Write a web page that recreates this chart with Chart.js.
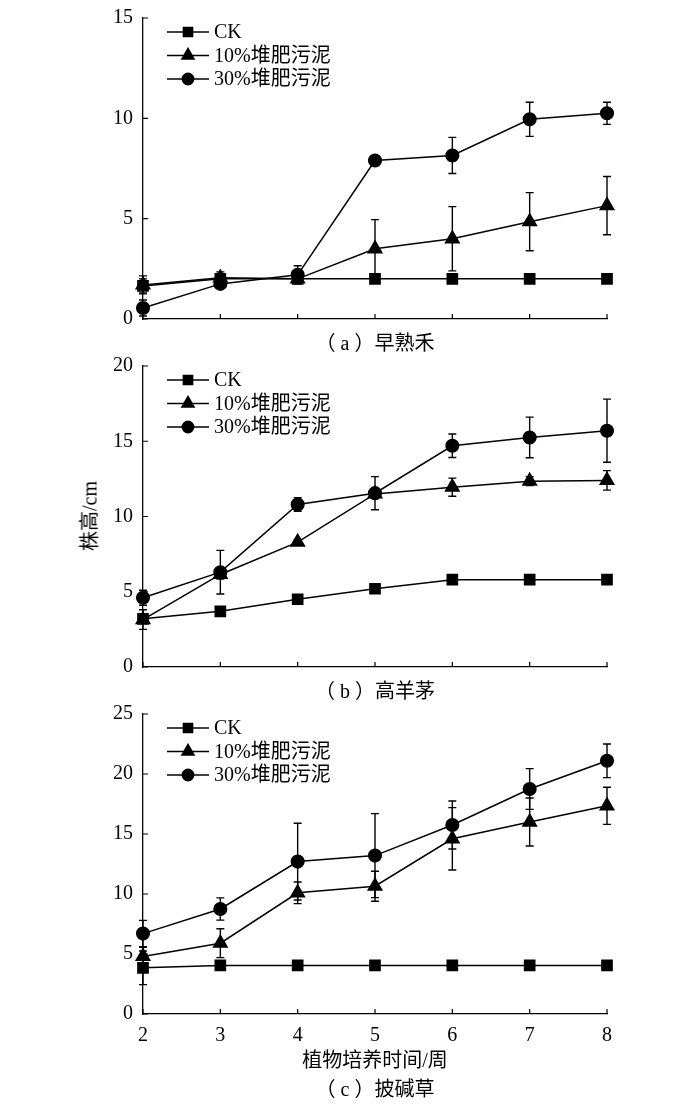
<!DOCTYPE html>
<html>
<head>
<meta charset="utf-8">
<script src="https://cdn.jsdelivr.net/npm/chart.js@4.4.1/dist/chart.umd.min.js"></script>
<style>
  body { margin: 0; background: #fff; width: 700px; height: 1106px; position: relative; overflow: hidden;
         font-family: "Liberation Serif", "Noto Sans CJK SC", serif; }
  canvas { position: absolute; left: 0; }
  .txt { position: absolute; color: #000; font-size: 20px; white-space: nowrap; transform: translate(-50%, -50%); }
</style>
</head>
<body>
<canvas id="chartA" width="700" height="336" style="top:0px"></canvas>
<canvas id="chartB" width="700" height="340" style="top:340px"></canvas>
<canvas id="chartC" width="700" height="416" style="top:690px"></canvas>

<div class="txt" style="left:375px;top:341px">（ a ）早熟禾</div>
<div class="txt" style="left:375px;top:689px">（ b ）高羊茅</div>
<div class="txt" style="left:88px;top:516px;transform:translate(-50%,-50%) rotate(-90deg)">株高/cm</div>
<div class="txt" style="left:375px;top:1058px">植物培养时间/周</div>
<div class="txt" style="left:375px;top:1087px">（ c ）披碱草</div>

<script>
const weeks = [2, 3, 4, 5, 6, 7, 8];
const seriesNames = ["CK", "10%堆肥污泥", "30%堆肥污泥"];

// (a) 早熟禾
const ckA = [1.65, 2.0, 2.0, 2.0, 2.0, 2.0, 2.0];
const ckAErr = [0.35, 0.1, 0.1, 0.1, 0.1, 0.1, 0.1];
const tenA = [1.7, 2.05, 2.0, 3.5, 4.0, 4.85, 5.65];
const tenAErr = [0.45, 0.3, 0.2, 1.45, 1.6, 1.45, 1.45];
const thirtyA = [0.55, 1.75, 2.2, 7.9, 8.15, 9.95, 10.25];
const thirtyAErr = [0.4, 0.15, 0.45, 0.15, 0.9, 0.85, 0.55];

// (b) 高羊茅
const ckB = [3.2, 3.7, 4.5, 5.2, 5.8, 5.8, 5.8];
const ckBErr = [0.1, 0.1, 0.1, 0.1, 0.1, 0.1, 0.1];
const tenB = [3.15, 6.15, 8.3, 11.5, 11.95, 12.35, 12.4];
const tenBErr = [0.65, 0.3, 0.15, 0.2, 0.6, 0.3, 0.65];
const thirtyB = [4.6, 6.3, 10.8, 11.55, 14.7, 15.25, 15.7];
const thirtyBErr = [0.5, 1.45, 0.45, 1.1, 0.78, 1.35, 2.1];

// (c) 披碱草
const ckC = [3.85, 4.05, 4.05, 4.05, 4.05, 4.05, 4.05];
const ckCErr = [1.4, 0.1, 0.1, 0.1, 0.1, 0.1, 0.1];
const tenC = [4.8, 5.9, 10.1, 10.65, 14.6, 16.0, 17.35];
const tenCErr = [0.75, 1.2, 0.9, 1.25, 2.6, 2.0, 1.55];
const thirtyC = [6.7, 8.75, 12.7, 13.2, 15.75, 18.75, 21.1];
const thirtyCErr = [1.1, 0.93, 3.2, 3.5, 2.0, 1.7, 1.4];

const yMaxes = [15, 20, 25];
const yStep = 5;

const FONT = "'Liberation Serif', 'Noto Sans CJK SC', serif";
const styles = [
  { pointStyle: "rect", radius: 7.2 },
  { pointStyle: "triangle", radius: 7.8 },
  { pointStyle: "circle", radius: 6.3 }
];

// vertical error bars with caps, drawn under the markers
const errorBars = {
  id: "errorBars",
  beforeDatasetsDraw(chart) {
    const ctx = chart.ctx, xs = chart.scales.x, ys = chart.scales.y;
    ctx.save();
    ctx.strokeStyle = "#000";
    ctx.lineWidth = 1.4;
    chart.data.datasets.forEach(ds => {
      ds.data.forEach((p, i) => {
        const e = ds.errors[i];
        if (!e) return;
        const px = xs.getPixelForValue(p.x);
        const top = ys.getPixelForValue(p.y + e);
        const bot = ys.getPixelForValue(Math.max(0, p.y - e));
        ctx.beginPath();
        ctx.moveTo(px, top); ctx.lineTo(px, bot);
        ctx.moveTo(px - 4, top); ctx.lineTo(px + 4, top);
        ctx.moveTo(px - 4, bot); ctx.lineTo(px + 4, bot);
        ctx.stroke();
      });
    });
    ctx.restore();
  }
};

// inward tick marks + line/marker legend
const decorations = {
  id: "decorations",
  afterDraw(chart) {
    const ctx = chart.ctx, xs = chart.scales.x, ys = chart.scales.y;
    const area = chart.chartArea;
    ctx.save();
    ctx.strokeStyle = "#000";
    ctx.lineWidth = 1.2;
    ctx.beginPath();
    weeks.forEach(w => {
      const px = xs.getPixelForValue(w);
      ctx.moveTo(px, area.bottom); ctx.lineTo(px, area.bottom - 5);
    });
    for (let v = 0; v <= ys.max; v += yStep) {
      const py = ys.getPixelForValue(v);
      ctx.moveTo(area.left, py); ctx.lineTo(area.left + 5, py);
    }
    ctx.stroke();

    ctx.fillStyle = "#000";
    ctx.font = "20px " + FONT;
    ctx.textBaseline = "middle";
    seriesNames.forEach((name, i) => {
      const y = area.top + 14 + i * 23.5;
      ctx.lineWidth = 1.5;
      ctx.beginPath();
      ctx.moveTo(167, y); ctx.lineTo(209, y);
      ctx.stroke();
      Chart.helpers.drawPoint(ctx, { pointStyle: styles[i].pointStyle, radius: styles[i].radius * 0.9, rotation: 0, borderWidth: 1 }, 188, y);
      ctx.fillText(name, 214, y + 1);
    });
    ctx.restore();
  }
};

function makeChart(id, series, errs, yMax, padTop, xHeight, showX) {
  const ctx = document.getElementById(id).getContext("2d");
  return new Chart(ctx, {
    type: "line",
    data: {
      datasets: series.map((vals, i) => ({
        label: seriesNames[i],
        data: weeks.map((w, j) => ({ x: w, y: vals[j] })),
        errors: errs[i],
        borderColor: "#000",
        backgroundColor: "#000",
        pointBackgroundColor: "#000",
        pointBorderColor: "#000",
        pointStyle: styles[i].pointStyle,
        pointRadius: styles[i].radius,
        borderWidth: 1.5,
        tension: 0,
        clip: false
      }))
    },
    options: {
      responsive: false,
      animation: false,
      layout: { padding: { top: padTop, right: 93, left: 0, bottom: 0 } },
      plugins: { legend: { display: false }, tooltip: { enabled: false } },
      scales: {
        x: {
          type: "linear",
          min: 2,
          max: 8,
          grid: { display: false, drawTicks: false },
          border: { display: true, color: "#000", width: 1.3 },
          ticks: {
            display: showX,
            stepSize: 1,
            color: "#000",
            padding: 10,
            font: { family: FONT, size: 20 }
          },
          afterFit(scale) {
            scale.height = xHeight;
            scale.paddingLeft = 0;
            scale.paddingRight = 0;
          }
        },
        y: {
          min: 0,
          max: yMax,
          grid: { display: false, drawTicks: false },
          border: { display: true, color: "#000", width: 1.3 },
          ticks: {
            stepSize: yStep,
            color: "#000",
            padding: 10,
            font: { family: FONT, size: 20 }
          },
          afterFit(scale) {
            scale.width = 143;
            scale.paddingTop = 0;
            scale.paddingBottom = 0;
          }
        }
      }
    },
    plugins: [errorBars, decorations]
  });
}

makeChart("chartA", [ckA, tenA, thirtyA], [ckAErr, tenAErr, thirtyAErr], yMaxes[0], 18, 17, false);
makeChart("chartB", [ckB, tenB, thirtyB], [ckBErr, tenBErr, thirtyBErr], yMaxes[1], 26, 13, false);
makeChart("chartC", [ckC, tenC, thirtyC], [ckCErr, tenCErr, thirtyCErr], yMaxes[2], 24, 92, true);
</script>
</body>
</html>
